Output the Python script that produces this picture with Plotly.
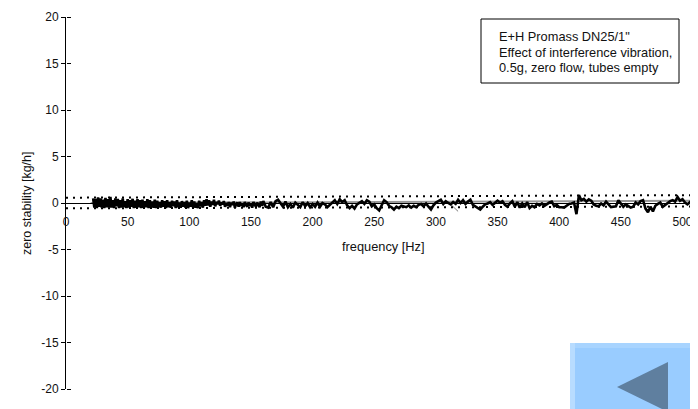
import plotly.graph_objects as go

# Series values
low_start, low_step = 22, 1
low_values = [0.5,-0.5,0.45,-0.55,0.6,-0.4,0.5,-0.5,0.35,-0.55,0.55,-0.45,0.4,-0.5,0.65,-0.5,0.3,-0.55,0.5,-0.35,
 0.45,-0.55,0.3,-0.5,0.5,-0.45,0.2,-0.55,0.4,-0.5,0.3,-0.4,0.45,-0.55,0.25,-0.5,0.4,-0.45,0.3,-0.55,
 0.35,-0.5,0.2,-0.45,0.4,-0.55,0.3,-0.4,0.15,-0.5,0.35,-0.55,0.25,-0.45,0.1,-0.5,0.3,-0.4,0.2,-0.55,
 0.3,-0.45,0.1,-0.5,0.25,-0.35,0.15,-0.55,0.3,-0.45,0.05,-0.5,0.2,-0.4,0.1,-0.5,0.25,-0.55,0.05,-0.4,
 0.3,-0.45,0.15,-0.5,0.0,-0.55,0.25,-0.35,0.1,-0.5,0.3,-0.3,0.4,-0.25,0.3,-0.4,0.15,-0.2,0.35,-0.35,
 0.1,-0.1,0.25,-0.3,0.05,-0.15,0.2,-0.4,0.0,-0.3,0.1,-0.45,0.05,-0.2,0.15,-0.5,-0.1,0.05,-0.4,0.1,
 -0.3,-0.05,-0.45,0.1,-0.2,-0.4,0.05,-0.3,-0.1,-0.5,0.1,-0.25,-0.4,0.05,-0.2,-0.45,0.15,-0.3,0.2]
high_start, high_step = 162, 2
high_values = [-0.4,-0.5,0.1,-0.45,0.2,0.35,-0.05,-0.4,0.15,-0.45,-0.1,-0.5,0.05,-0.25,-0.45,0.1,-0.35,0.0,-0.45,-0.1,
 -0.4,0.05,-0.4,0.0,-0.15,-0.45,-0.2,0.15,0.3,-0.1,0.4,0.1,0.3,-0.25,-0.55,-0.3,-0.6,-0.15,0.05,0.2,
 -0.1,0.3,0.15,-0.35,-0.15,-0.55,-0.8,-0.2,0.3,0.1,-0.3,-0.45,-0.7,-0.4,-0.55,-0.3,-0.35,-0.45,-0.25,-0.5,
 -0.3,-0.45,-0.2,-0.1,-0.35,-0.05,-0.4,-0.7,-0.25,0.05,0.2,0.35,-0.1,0.2,0.0,-0.15,0.1,-0.1,0.35,0.0,
 0.3,-0.1,0.15,0.35,-0.2,-0.4,-0.6,-0.7,-0.4,-0.15,-0.05,0.1,-0.2,0.05,0.25,0.05,0.2,-0.2,-0.4,-0.05,
 0.2,-0.4,0.1,-0.5,-0.05,-0.45,0.1,-0.55,-0.3,-0.45,-0.1,-0.25,-0.05,-0.3,-0.1,0.05,0.15,-0.35,-0.2,-0.45,
 -0.45,-0.5,-0.3,-0.1,-0.05,0.05,-1.2,0.85,0.3,0.45,0.15,0.4,0.25,-0.15,-0.3,-0.35,-0.05,-0.25,0.15,-0.15,
 -0.45,-0.4,-0.35,0.3,-0.05,-0.4,-0.15,-0.3,-0.5,-0.4,0.05,-0.15,0.2,0.3,-0.6,-1.0,-0.4,-0.9,-0.3,-0.1,
 0.05,-0.4,-0.2,0.1,0.2,0.3,0.15,0.65,0.25,0.4,0.05,-0.15,0.1,-0.3,-0.05,-0.25,0.05,0.1,-0.2,0.1,
 -0.05,0.15,-0.2,-0.05]

limit_freq = [0, 512]
upper_limit = [0.57, 0.85]
lower_limit = [-0.57, -0.38]
trend_freq = [20, 512]
trend_values = [0.0, 0.25]
thin_freq = [310, 318]
thin_values = [0.1, -0.9]

x_ticks = [0, 50, 100, 150, 200, 250, 300, 350, 400, 450, 500]
y_ticks = [20, 15, 10, 5, 0, -5, -10, -15, -20]
x_title = "frequency [Hz]"
y_title = "zero stability [kg/h]"
note_lines = ['E+H Promass DN25/1"', "Effect of interference vibration,", "0.5g, zero flow, tubes empty"]

low_freq = [low_start + low_step * i for i in range(len(low_values))]
high_freq = [high_start + high_step * i for i in range(len(high_values))]

OFF = 8  # the page puts the figure 8 px from its top-left corner
W, H = 698 - OFF, 409 - OFF
L, R, T, B = 66 - OFF, 0, 17 - OFF, 20
PW, PH = W - L - R, H - T - B
FONT = "Liberation Sans"
TXT = "#111111"


def px(x):
    return (x - OFF - L) / PW


def py(y):
    return 1 - (y - OFF - T) / PH


fig = go.Figure()
fig.add_trace(go.Scatter(x=trend_freq, y=trend_values, mode="lines", line=dict(color="#999999", width=2), hoverinfo="skip"))
fig.add_trace(go.Scatter(x=thin_freq, y=thin_values, mode="lines", line=dict(color="#777777", width=1), hoverinfo="skip"))
fig.add_trace(go.Scatter(x=limit_freq, y=upper_limit, mode="lines", line=dict(color="black", width=2, dash="2px 5px"), hoverinfo="skip"))
fig.add_trace(go.Scatter(x=limit_freq, y=lower_limit, mode="lines", line=dict(color="black", width=2, dash="2px 5px"), hoverinfo="skip"))
fig.add_trace(go.Scatter(x=low_freq + high_freq, y=low_values + high_values, mode="lines",
                         line=dict(color="black", width=2.6), hoverinfo="skip"))
# empty trace keeps the mirror axis (inner half of the crossing ticks) on screen
fig.add_trace(go.Scatter(x=[None], y=[None], yaxis="y2", hoverinfo="skip"))

shapes = [
    dict(type="rect", xref="paper", yref="paper", x0=px(481), x1=px(679), y0=py(83), y1=py(19),
         line=dict(color="black", width=1), fillcolor="white"),
    dict(type="rect", xref="paper", yref="paper", x0=px(570), x1=px(698), y0=py(409), y1=py(343),
         line=dict(width=0), fillcolor="#99CCFF"),
    dict(type="rect", xref="paper", yref="paper", x0=px(570), x1=px(698), y0=py(348), y1=py(343),
         line=dict(width=0), fillcolor="#A8D4FF"),
    dict(type="rect", xref="paper", yref="paper", x0=px(570), x1=px(575), y0=py(409), y1=py(343),
         line=dict(width=0), fillcolor="#B8DCFF"),
    dict(type="path", xref="paper", yref="paper",
         path=f"M {px(617)} {py(387)} L {px(668)} {py(362)} L {px(668)} {py(409)} L {px(662)} {py(409)} Z",
         line=dict(width=0), fillcolor="#5F7F9F"),
]

annotations = [
    dict(xref="paper", yref="paper", x=px(497), y=py(y), text=t, showarrow=False, xanchor="left", yanchor="middle",
         font=dict(family=FONT, size=12.8, color=TXT))
    for t, y in zip(note_lines, [37, 52, 67])
]
annotations.append(dict(xref="paper", yref="paper", x=px(383), y=py(246), text=x_title, showarrow=False,
                        xanchor="center", yanchor="middle", font=dict(family=FONT, size=12.8, color=TXT)))
annotations.append(dict(xref="paper", yref="paper", x=px(27), y=py(203), text=y_title, showarrow=False, textangle=-90,
                        xanchor="center", yanchor="middle", font=dict(family=FONT, size=12.5, color=TXT)))

fig.update_layout(
    width=W, height=H, autosize=False, showlegend=False,
    margin=dict(l=L, r=R, t=T, b=B, pad=0),
    paper_bgcolor="white", plot_bgcolor="white",
    xaxis=dict(range=[0, PW / 1.233], tickvals=x_ticks, ticktext=[str(v) for v in x_ticks],
               anchor="free", position=0.5, showgrid=False, zeroline=False, showline=True, linecolor="black", linewidth=1,
               ticks="outside", ticklen=8, tickcolor="rgba(0,0,0,0)",
               tickfont=dict(family=FONT, size=12, color=TXT)),
    yaxis=dict(range=[-20, 20], tickvals=y_ticks, ticktext=[str(v) for v in y_ticks], showgrid=False, zeroline=False,
               showline=True, linecolor="black", linewidth=1, ticks="outside", ticklen=4, tickcolor="black",
               tickfont=dict(family=FONT, size=12, color=TXT)),
    yaxis2=dict(range=[-20, 20], tickvals=y_ticks, ticktext=["" for v in y_ticks], overlaying="y", anchor="free", position=0, side="right",
                showgrid=False, zeroline=False, showline=False, ticks="outside", ticklen=4, tickcolor="black"),
    shapes=shapes, annotations=annotations,
)

fig.write_html("out.html")
